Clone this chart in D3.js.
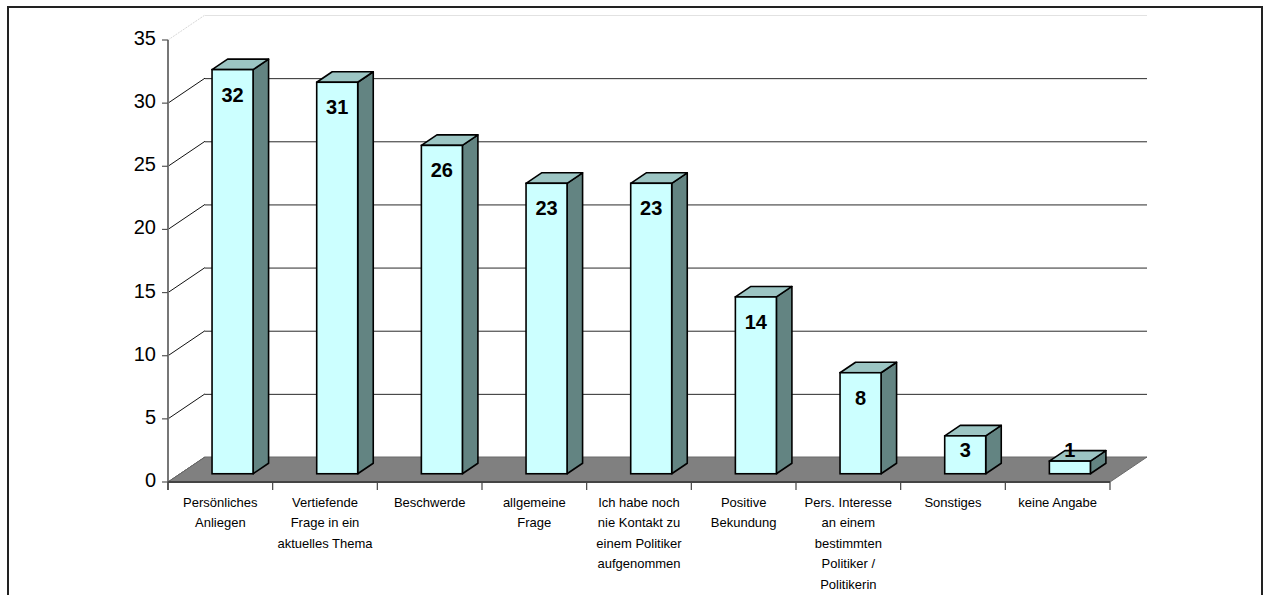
<!DOCTYPE html>
<html><head><meta charset="utf-8">
<script src="https://cdn.jsdelivr.net/npm/d3@7"></script>
<style>body{margin:0;background:#fff}svg{display:block}</style>
</head><body>
<svg id="c" width="1267" height="595"></svg>
<script>
const categories = [
  ["Persönliches","Anliegen"],
  ["Vertiefende","Frage in ein","aktuelles Thema"],
  ["Beschwerde"],
  ["allgemeine","Frage"],
  ["Ich habe noch","nie Kontakt zu","einem Politiker","aufgenommen"],
  ["Positive","Bekundung"],
  ["Pers. Interesse","an einem","bestimmten","Politiker /","Politikerin"],
  ["Sonstiges"],
  ["keine Angabe"]
];
const values = [32, 31, 26, 23, 23, 14, 8, 3, 1];
const yTicks = [0, 5, 10, 15, 20, 25, 30, 35];

const svg = d3.select("#c");
const DX = 37, DY = -25;           // depth offset of back wall
const f0 = 0.33, f1 = 0.75;        // bar front/back depth fractions
const x = d3.scaleBand().domain(d3.range(values.length)).range([168, 1110]).paddingInner(0).paddingOuter(0);
const y = d3.scaleLinear().domain([0, 35]).range([482, 40]);
const barW = 41;

// outer frame
svg.append("rect").attr("x", 8).attr("y", 7).attr("width", 1254).attr("height", 620)
  .attr("fill", "none").attr("stroke", "#222").attr("stroke-width", 2);

// back wall gridlines
const xL = x.range()[0], xR = x.range()[1];
svg.append("g").selectAll("line").data(yTicks).join("line")
  .attr("x1", xL + DX).attr("x2", xR + DX)
  .attr("y1", d => y(d) + DY + 0.5).attr("y2", d => y(d) + DY + 0.5)
  .attr("stroke", d => d === 35 ? "#e2e2e2" : "#2a2a2a").attr("stroke-width", 1);
// left wall diagonals
svg.append("g").selectAll("line").data(yTicks).join("line")
  .attr("x1", xL).attr("y1", d => y(d))
  .attr("x2", xL + DX).attr("y2", d => y(d) + DY)
  .attr("stroke", d => d === 35 ? "#d8d8d8" : "#111")
  .attr("stroke-dasharray", d => d === 35 ? "2,1" : null)
  .attr("stroke-width", 1);

// floor
svg.append("path")
  .attr("d", `M${xL},${y(0)}L${xR},${y(0)}L${xR + DX},${y(0) + DY}L${xL + DX},${y(0) + DY}Z`)
  .attr("fill", "#808080").attr("stroke", "#6a6a6a").attr("stroke-width", 1);

// bars
const bars = svg.append("g").selectAll("g").data(values).join("g");
bars.each(function (v, i) {
  const g = d3.select(this);
  const x0 = x(i) + (x.bandwidth() - barW) / 2 + DX * f0;
  const x1 = x0 + barW;
  const yb = y(0) + DY * f0;
  const yt = y(v) + DY * f0;
  const ddx = DX * (f1 - f0), ddy = DY * (f1 - f0);
  // side face
  g.append("path").attr("d", `M${x1},${yb}L${x1 + ddx},${yb + ddy}L${x1 + ddx},${yt + ddy}L${x1},${yt}Z`)
    .attr("fill", "#638482").attr("stroke", "#000").attr("stroke-width", 1.6).attr("stroke-linejoin", "round");
  // top face
  g.append("path").attr("d", `M${x0},${yt}L${x1},${yt}L${x1 + ddx},${yt + ddy}L${x0 + ddx},${yt + ddy}Z`)
    .attr("fill", "#9cc5c3").attr("stroke", "#000").attr("stroke-width", 1.6).attr("stroke-linejoin", "round");
  // front face
  g.append("rect").attr("x", x0).attr("y", yt).attr("width", barW).attr("height", yb - yt)
    .attr("fill", "#ccffff").attr("stroke", "#000").attr("stroke-width", 1.6);
  // value label
  g.append("text").attr("x", x0 + barW / 2).attr("y", Math.min(yt + 25, yb - 24))
    .attr("text-anchor", "middle").attr("dominant-baseline", "central")
    .attr("font-family", "Liberation Sans, Arial, sans-serif").attr("font-weight", "bold")
    .attr("font-size", 20).attr("fill", "#000").text(v);
});

// vertical axis
svg.append("line").attr("x1", xL).attr("x2", xL).attr("y1", y(35)).attr("y2", y(0) + 8)
  .attr("stroke", "#777").attr("stroke-width", 2);
svg.append("g").selectAll("line").data(yTicks).join("line")
  .attr("x1", xL - 6).attr("x2", xL).attr("y1", d => y(d)).attr("y2", d => y(d))
  .attr("stroke", "#555").attr("stroke-width", 1.2);
svg.append("g").selectAll("text").data(yTicks).join("text")
  .attr("x", xL - 12).attr("y", d => y(d) - 2)
  .attr("text-anchor", "end").attr("dominant-baseline", "central")
  .attr("font-family", "Liberation Sans, Arial, sans-serif").attr("font-size", 20).attr("fill", "#000")
  .text(d => d);

// horizontal axis
svg.append("line").attr("x1", xL).attr("x2", xR).attr("y1", y(0)).attr("y2", y(0))
  .attr("stroke", "#444").attr("stroke-width", 2);
const bounds = d3.range(values.length + 1).map(i => xL + i * x.step());
svg.append("g").selectAll("line").data(bounds).join("line")
  .attr("x1", d => d).attr("x2", d => d).attr("y1", y(0)).attr("y2", y(0) + 8)
  .attr("stroke", "#444").attr("stroke-width", 1.2);

// category labels
const cl = svg.append("g").selectAll("text").data(categories).join("text")
  .attr("font-family", "Liberation Sans, Arial, sans-serif").attr("font-size", 13)
  .attr("text-anchor", "middle").attr("fill", "#000");
cl.each(function (lines, i) {
  const t = d3.select(this);
  lines.forEach((ln, k) => {
    t.append("tspan").attr("x", x(i) + x.bandwidth() / 2).attr("y", 506.5 + k * 20.5).text(ln);
  });
});
</script>
</body></html>
